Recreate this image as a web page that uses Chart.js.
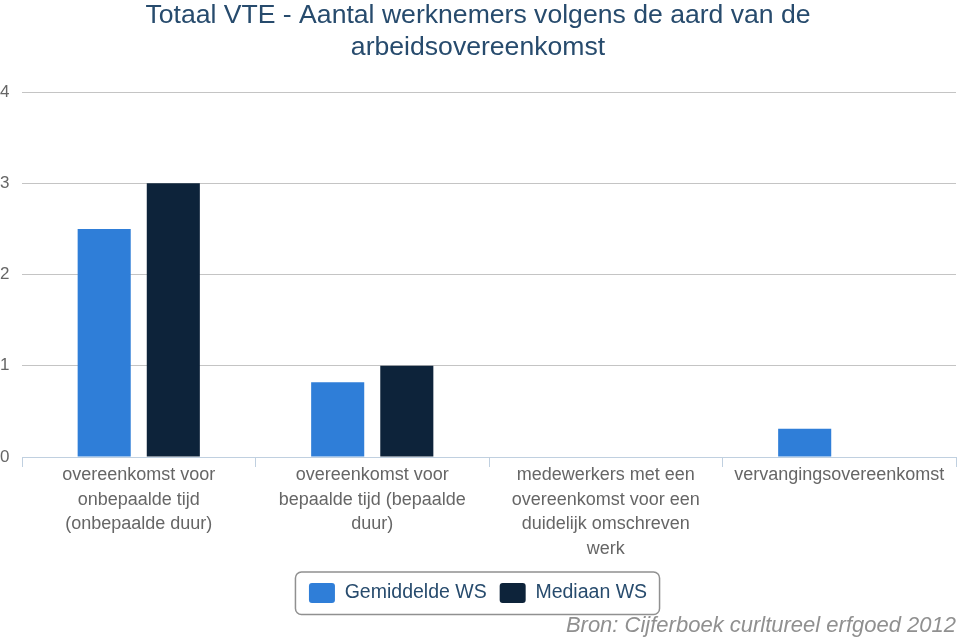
<!DOCTYPE html>
<html>
<head>
<meta charset="utf-8">
<script src="https://cdn.jsdelivr.net/npm/chart.js@4"></script>
<style>
html,body{margin:0;padding:0;background:#fff;}
#wrap{width:960px;height:638px;}
</style>
</head>
<body>
<div id="wrap"><canvas id="c" width="960" height="638"></canvas></div>
<script>
const titleLines = ['Totaal VTE - Aantal werknemers volgens de aard van de', 'arbeidsovereenkomst'];
const categories = [
  ['overeenkomst voor', 'onbepaalde tijd', '(onbepaalde duur)'],
  ['overeenkomst voor', 'bepaalde tijd (bepaalde', 'duur)'],
  ['medewerkers met een', 'overeenkomst voor een', 'duidelijk omschreven', 'werk'],
  ['vervangingsovereenkomst']
];
const seriesNames = ['Gemiddelde WS', 'Mediaan WS'];
const gemiddelde = [2.5, 0.82, 0, 0.31];
const mediaan = [3.0, 1.0, 0, 0];
const yTicks = [0, 1, 2, 3, 4];
const creditText = 'Bron: Cijferboek curltureel erfgoed 2012';

const FONT = "'Liberation Sans', Arial, Helvetica, sans-serif";

const legendBorder = {
  id: 'legendBorder',
  afterDraw(chart) {
    const hb = chart.legend && chart.legend.legendHitBoxes;
    if (!hb || !hb.length) return;
    const first = hb[0], last = hb[hb.length - 1];
    const l = first.left - 13.5, r = last.left + last.width + 12.5;
    const t = first.top - 11, b = first.top + first.height + 11.5;
    const ctx = chart.ctx;
    ctx.save();
    ctx.strokeStyle = '#909090';
    ctx.lineWidth = 1.5;
    ctx.beginPath();
    ctx.roundRect(l, t, r - l, b - t, 6);
    ctx.stroke();
    ctx.restore();
  }
};

new Chart(document.getElementById('c'), {
  type: 'bar',
  data: {
    labels: categories,
    datasets: [
      { label: seriesNames[0], data: gemiddelde, backgroundColor: '#2f7ed8', borderWidth: 0 },
      { label: seriesNames[1], data: mediaan, backgroundColor: '#0d233a', borderWidth: 0 }
    ]
  },
  options: {
    responsive: false,
    animation: false,
    devicePixelRatio: 1,
    categoryPercentage: 0.592,
    barPercentage: 0.768,
    layout: { padding: { left: 0, right: 4, top: 0, bottom: 0 } },
    scales: {
      x: {
        afterFit: s => { s.height = 113; },
        grid: { drawOnChartArea: false, offset: true, tickLength: 10, color: '#C0D0E0', lineWidth: 1 },
        border: { display: true, color: '#C0D0E0', width: 1 },
        ticks: {
          color: '#666666', padding: -4, maxRotation: 0, autoSkip: false,
          font: { family: FONT, size: 18, lineHeight: '24.5px' }
        }
      },
      y: {
        min: 0, max: 4,
        afterFit: s => { s.width = 22; },
        afterBuildTicks: s => { s.ticks = yTicks.map(v => ({ value: v })); },
        grid: { color: '#C4C4C4', lineWidth: 1, drawTicks: false },
        border: { display: false },
        ticks: {
          color: '#666666', padding: 0, crossAlign: 'far',
          font: { family: FONT, size: 17 }
        }
      }
    },
    plugins: {
      title: {
        display: true,
        text: titleLines,
        color: '#274b6d',
        font: { family: FONT, size: 26.6, weight: 'normal', lineHeight: '32px' },
        padding: { top: 0, bottom: 28 }
      },
      subtitle: {
        display: true,
        text: creditText,
        position: 'bottom',
        align: 'end',
        color: '#909090',
        font: { family: FONT, size: 22, style: 'italic', weight: 'normal', lineHeight: '25px' },
        padding: { top: 0, bottom: 0 }
      },
      legend: {
        display: true,
        position: 'bottom',
        labels: {
          boxWidth: 26, boxHeight: 20, padding: 13,
          color: '#274b6d',
          useBorderRadius: true, borderRadius: 3,
          font: { family: FONT, size: 19.5 }
        }
      },
      tooltip: { enabled: false }
    }
  },
  plugins: [legendBorder]
});
</script>
</body>
</html>
